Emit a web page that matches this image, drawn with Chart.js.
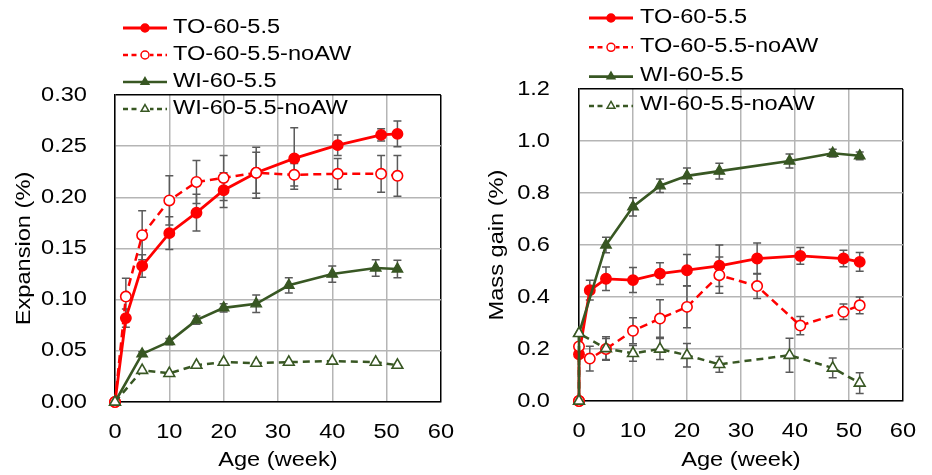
<!DOCTYPE html>
<html><head><meta charset="utf-8">
<script src="https://cdn.jsdelivr.net/npm/chart.js@4.4.1/dist/chart.umd.min.js"></script>
<style>
html,body{margin:0;padding:0;background:#fff;}
#wrap{position:relative;width:932px;height:475px;overflow:hidden;background:#fff;}
#c1{position:absolute;left:0;top:0;}
#c2{position:absolute;left:470px;top:0;}
</style></head><body>
<div id="wrap"><canvas id="c1" width="470" height="475"></canvas><canvas id="c2" width="462" height="475"></canvas></div>
<script>
// ---------- data ----------
const seriesNames = ['TO-60-5.5', 'TO-60-5.5-noAW', 'WI-60-5.5', 'WI-60-5.5-noAW'];
const xTicks = [0, 10, 20, 30, 40, 50, 60];
const expTickLabels = ['0.00', '0.05', '0.10', '0.15', '0.20', '0.25', '0.30'];
const massTickLabels = ['0.0', '0.2', '0.4', '0.6', '0.8', '1.0', '1.2'];

// Expansion (%) – left chart
const expWeeksTO = [0, 2, 5, 10, 15, 20, 26, 33, 41, 49, 52];
const expTO = [0, 0.082, 0.133, 0.165, 0.185, 0.207, 0.224, 0.238, 0.251, 0.261, 0.262];
const expTOerr = [0, 0.009, 0.011, 0.016, 0.018, 0.017, 0.020, 0.030, 0.010, 0.006, 0.0125];
const expTOnoAW = [0, 0.103, 0.163, 0.197, 0.215, 0.219, 0.224, 0.222, 0.223, 0.223, 0.221];
const expTOnoAWerr = [0, 0.018, 0.024, 0.024, 0.021, 0.022, 0.025, 0.011, 0.015, 0.018, 0.020];
const expWeeksWI = [0, 5, 10, 15, 20, 26, 32, 40, 48, 52];
const expWI = [0, 0.047, 0.059, 0.080, 0.092, 0.096, 0.114, 0.125, 0.131, 0.130];
const expWIerr = [0, 0.002, 0.003, 0.004, 0.004, 0.0085, 0.0075, 0.008, 0.008, 0.0085];
const expWInoAW = [0, 0.031, 0.028, 0.036, 0.039, 0.038, 0.039, 0.040, 0.039, 0.036];
const expWInoAWerr = [0, 0, 0, 0, 0, 0, 0, 0, 0, 0];

// Mass gain (%) – right chart
const massWeeksTO = [0, 0, 2, 5, 10, 15, 20, 26, 33, 41, 49, 52];
const massTO = [0, 0.18, 0.426, 0.470, 0.465, 0.490, 0.503, 0.520, 0.548, 0.558, 0.548, 0.535];
const massTOerr = [0, 0, 0.038, 0.045, 0.048, 0.042, 0.060, 0.080, 0.060, 0.032, 0.032, 0.036];
const massTOnoAW = [0, 0.21, 0.163, 0.200, 0.270, 0.317, 0.362, 0.484, 0.442, 0.290, 0.343, 0.368];
const massTOnoAWerr = [0, 0, 0.048, 0.040, 0.050, 0.072, 0.080, 0.070, 0.048, 0.035, 0.030, 0.032];
const massWeeksWI = [0, 0, 5, 10, 15, 20, 26, 39, 47, 52];
const massWI = [0, 0.26, 0.600, 0.747, 0.828, 0.866, 0.884, 0.923, 0.953, 0.943];
const massWIerr = [0, 0, 0.030, 0.035, 0.026, 0.030, 0.030, 0.027, 0.015, 0.015];
const massWInoAW = [0, 0.26, 0.202, 0.183, 0.200, 0.176, 0.141, 0.176, 0.127, 0.069];
const massWInoAWerr = [0, 0, 0.045, 0.030, 0.040, 0.045, 0.030, 0.065, 0.038, 0.040];

// ---------- styling ----------
const RED = '#FF0000';
const GREEN = '#385723';
const GRID = '#B5B5B5';
const FONT = 'Liberation Sans, Arial, sans-serif';

function pts(xs, ys) { return xs.map((x, i) => ({ x: x, y: ys[i] })); }

function makeDatasets(w1, v1, e1, v2, e2, w3, v3, e3, v4, e4) {
  return [
    { label: seriesNames[0], data: pts(w1, v1), errorBars: e1, borderColor: RED, backgroundColor: RED,
      pointBackgroundColor: RED, pointBorderColor: RED, pointStyle: 'circle', pointRadius: 5.2, pointBorderWidth: 1.5,
      borderWidth: 2.8, order: 3, clip: false },
    { label: seriesNames[1], data: pts(w1, v2), errorBars: e2, borderColor: RED, backgroundColor: '#fff',
      pointBackgroundColor: '#fff', pointBorderColor: RED, pointStyle: 'circle', pointRadius: 5.2, pointBorderWidth: 1.6,
      borderWidth: 2.5, borderDash: [8, 5], order: 2, clip: false },
    { label: seriesNames[2], data: pts(w3, v3), errorBars: e3, borderColor: GREEN, backgroundColor: GREEN,
      pointBackgroundColor: GREEN, pointBorderColor: GREEN, pointStyle: 'triangle', pointRadius: 6.2, pointBorderWidth: 1.2,
      borderWidth: 2.6, order: 1, clip: false },
    { label: seriesNames[3], data: pts(w3, v4), errorBars: e4, borderColor: GREEN, backgroundColor: '#fff',
      pointBackgroundColor: '#fff', pointBorderColor: GREEN, pointStyle: 'triangle', pointRadius: 6.2, pointBorderWidth: 1.6,
      borderWidth: 2.5, borderDash: [7, 5], order: 0, clip: false }
  ];
}

// error bars drawn before the series
const errorBarPlugin = {
  id: 'errorBars',
  beforeDatasetsDraw(chart) {
    const ctx = chart.ctx;
    const xs = chart.scales.x, ys = chart.scales.y;
    ctx.save();
    ctx.strokeStyle = '#5A5A5A';
    ctx.lineWidth = 1.5;
    ctx.setLineDash([]);
    chart.data.datasets.forEach(ds => {
      (ds.data || []).forEach((p, i) => {
        const e = ds.errorBars ? ds.errorBars[i] : 0;
        if (!e) return;
        const px = xs.getPixelForValue(p.x);
        const y1 = ys.getPixelForValue(p.y + e);
        const y2 = ys.getPixelForValue(p.y - e);
        ctx.beginPath();
        ctx.moveTo(px, y1); ctx.lineTo(px, y2);
        ctx.moveTo(px - 4, y1); ctx.lineTo(px + 4, y1);
        ctx.moveTo(px - 4, y2); ctx.lineTo(px + 4, y2);
        ctx.stroke();
      });
    });
    ctx.restore();
  }
};

// vertical legend drawn on top
const legendPlugin = {
  id: 'vlegend',
  afterDraw(chart, args, opts) {
    const ctx = chart.ctx;
    ctx.save();
    chart.data.datasets.forEach((ds, i) => {
      const y = opts.y0 + i * opts.dy;
      ctx.strokeStyle = ds.borderColor;
      ctx.lineWidth = ds.borderWidth;
      ctx.setLineDash(ds.borderDash ? [5, 3.5] : []);
      ctx.beginPath();
      ctx.moveTo(opts.x1, y); ctx.lineTo(opts.x2, y);
      ctx.stroke();
      ctx.setLineDash([]);
      ctx.fillStyle = ds.pointBackgroundColor;
      ctx.strokeStyle = ds.pointBorderColor;
      ctx.lineWidth = 1.5;
      const xm = (opts.x1 + opts.x2) / 2;
      if (ds.pointBackgroundColor === '#fff') { ctx.fillRect(xm - 5, y - 5, 10, 10); }
      Chart.helpers.drawPoint(ctx, { pointStyle: ds.pointStyle, radius: ds.pointStyle === 'triangle' ? 4.5 : 4, rotation: 0, borderWidth: 1.5 }, xm, y);
      ctx.fillStyle = '#000';
      ctx.font = '20px ' + FONT;
      ctx.textAlign = 'left';
      ctx.textBaseline = 'middle';
      ctx.fillText(ds.label, opts.tx, y - 1);
    });
    ctx.restore();
  }
};

// the reference text is set in a horizontally wide face
function stretchText(ctx, k) {
  const orig = ctx.fillText.bind(ctx);
  ctx.fillText = function (t, x, y) {
    ctx.save(); ctx.translate(x, y); ctx.scale(k, 1); orig(t, 0, 0); ctx.restore();
  };
}

function near(a, b) { return Math.abs(a - b) < 1e-9; }

function makeChart(canvas, datasets, cfg) {
  const ctx = canvas.getContext('2d');
  stretchText(ctx, 1.18);
  return new Chart(ctx, {
    type: 'line',
    data: { datasets: datasets },
    options: {
      responsive: false, animation: false, devicePixelRatio: 1,
      layout: { padding: cfg.padding },
      plugins: { legend: { display: false }, tooltip: { enabled: false }, vlegend: cfg.legend },
      elements: { line: { tension: 0 } },
      scales: {
        x: {
          type: 'linear', min: 0, max: 60,
          afterBuildTicks: s => { s.ticks = xTicks.map(v => ({ value: v })); },
          afterFit: s => { s.height = cfg.xHeight; },
          ticks: { font: { family: FONT, size: 20 }, color: '#000', padding: cfg.xTickPad, maxRotation: 0, autoSkip: false,
                   callback: v => String(v) },
          grid: { drawTicks: false, lineWidth: 1.5,
                  color: c => (c.tick && near(c.tick.value, 60)) ? '#000' : GRID },
          border: { display: true, color: '#000', width: 1.5 },
          title: { display: true, text: 'Age (week)', color: '#000', font: { family: FONT, size: 20 },
                   padding: { top: 0, bottom: cfg.xTitlePad } }
        },
        y: {
          type: 'linear', min: 0, max: cfg.yMax,
          afterBuildTicks: s => { s.ticks = cfg.yLabels.map((l, i) => ({ value: i * cfg.yStep })); },
          afterFit: s => { s.width = cfg.yWidth; },
          ticks: { font: { family: FONT, size: 20 }, color: '#000', padding: cfg.yTickPad, autoSkip: false,
                   callback: (v, i) => cfg.yLabels[i] },
          grid: { drawTicks: false, lineWidth: 1.5,
                  color: c => (c.tick && near(c.tick.value, cfg.yMax)) ? '#000' : GRID },
          border: { display: true, color: '#000', width: 1.5 },
          title: { display: true, text: cfg.yTitle, color: '#000', font: { family: FONT, size: 20 },
                   padding: { top: cfg.yTitlePad, bottom: 0 } }
        }
      }
    },
    plugins: [errorBarPlugin, legendPlugin]
  });
}

makeChart(document.getElementById('c1'),
  makeDatasets(expWeeksTO, expTO, expTOerr, expTOnoAW, expTOnoAWerr, expWeeksWI, expWI, expWIerr, expWInoAW, expWInoAWerr),
  { padding: { left: 0, top: 95, right: 27, bottom: 0 }, xHeight: 73, yWidth: 115, yMax: 0.3, yStep: 0.05,
    yLabels: expTickLabels, yTitle: 'Expansion (%)', xTickPad: 18, yTickPad: 28, xTitlePad: 3, yTitlePad: 12,
    legend: { x1: 123, x2: 167, tx: 173, y0: 28, dy: 27 } });

makeChart(document.getElementById('c2'),
  makeDatasets(massWeeksTO, massTO, massTOerr, massTOnoAW, massTOnoAWerr, massWeeksWI, massWI, massWIerr, massWInoAW, massWInoAWerr),
  { padding: { left: 0, top: 89, right: 15, bottom: 0 }, xHeight: 74, yWidth: 109, yMax: 1.2, yStep: 0.2,
    yLabels: massTickLabels, yTitle: 'Mass gain (%)', xTickPad: 18, yTickPad: 29, xTitlePad: 3, yTitlePad: 15,
    legend: { x1: 119, x2: 163, tx: 170, y0: 18, dy: 29.3 } });
</script>
</body></html>
